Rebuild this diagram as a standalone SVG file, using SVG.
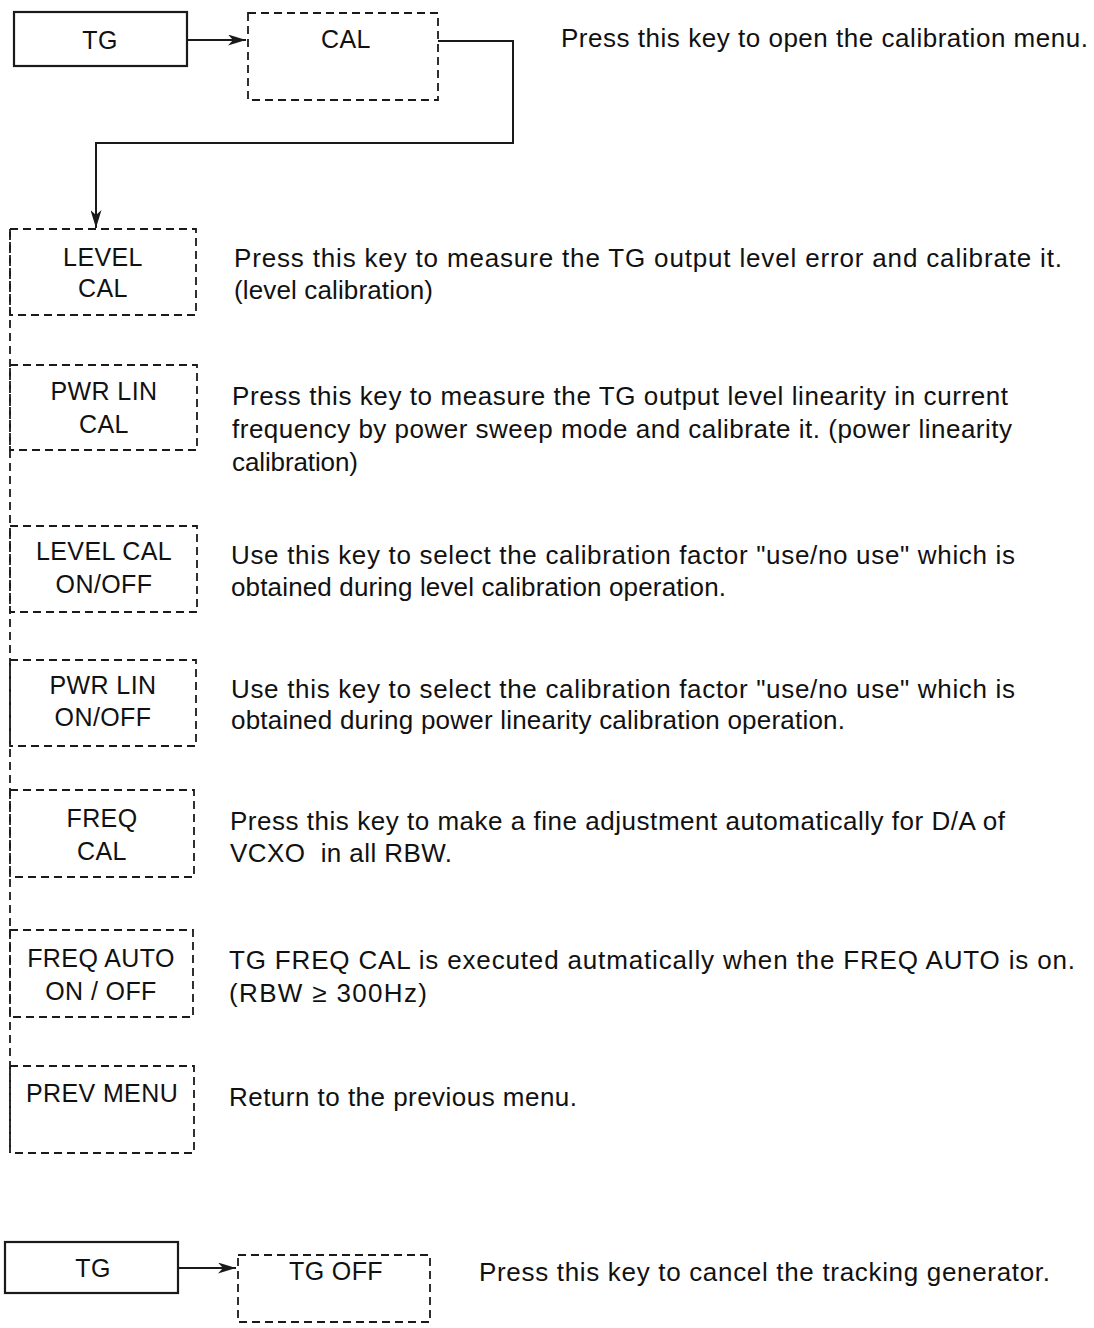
<svg xmlns="http://www.w3.org/2000/svg" width="1094" height="1328" viewBox="0 0 1094 1328">
<style>
  .solid { fill: none; stroke: #1a1a1a; stroke-width: 2.2; }
  .dash { fill: none; stroke: #1a1a1a; stroke-width: 1.8; stroke-dasharray: 8 5; }
  .conn { fill: none; stroke: #1a1a1a; stroke-width: 2; }
  .lbl { font-family: "Liberation Sans", Arial, Helvetica, sans-serif; font-size: 25px; fill: #111; text-anchor: middle; letter-spacing: 0.4px; }
  .desc { font-family: "Liberation Sans", Arial, Helvetica, sans-serif; font-size: 26px; fill: #111; }
</style>
<defs>
  <marker id="arr" viewBox="0 0 18 11" refX="18" refY="5.5" markerWidth="18" markerHeight="11" markerUnits="userSpaceOnUse" orient="auto">
    <path d="M0,0 L18,5.5 L0,11 L5,5.5 Z" fill="#1a1a1a"/>
  </marker>
</defs>
<rect width="1094" height="1328" fill="#ffffff"/>

<g id="connectors">
  <path class="conn" d="M187 40 H246" marker-end="url(#arr)"/>
  <path class="conn" d="M438 41 H513 V143 H96 V228" marker-end="url(#arr)"/>
  <path class="dash" d="M10 229 V1153"/>
  <path class="conn" d="M178 1268 H236" marker-end="url(#arr)"/>
</g>

<g id="tg-top">
  <rect class="solid" x="14" y="12" width="173" height="54"/>
  <text class="lbl" x="100" y="49">TG</text>
</g>
<g id="cal">
  <rect class="dash" x="248" y="13" width="190" height="87"/>
  <text class="lbl" x="346" y="48">CAL</text>
  <text class="desc" x="561" y="47" textLength="527" lengthAdjust="spacing">Press this key to open the calibration menu.</text>
</g>

<g id="level-cal">
  <rect class="dash" x="10" y="229" width="186" height="86"/>
  <text class="lbl" x="103" y="266">LEVEL</text>
  <text class="lbl" x="103" y="297">CAL</text>
  <text class="desc" x="234" y="267" textLength="828" lengthAdjust="spacing">Press this key to measure the TG output level error and calibrate it.</text>
  <text class="desc" x="234" y="299" textLength="199" lengthAdjust="spacing">(level calibration)</text>
</g>

<g id="pwr-lin-cal">
  <rect class="dash" x="10" y="365" width="187" height="85"/>
  <text class="lbl" x="104" y="400">PWR LIN</text>
  <text class="lbl" x="104" y="433">CAL</text>
  <text class="desc" x="232" y="405" textLength="776" lengthAdjust="spacing">Press this key to measure the TG output level linearity in current</text>
  <text class="desc" x="232" y="438" textLength="780" lengthAdjust="spacing">frequency by power sweep mode and calibrate it. (power linearity</text>
  <text class="desc" x="232" y="471" textLength="126" lengthAdjust="spacing">calibration)</text>
</g>

<g id="level-cal-onoff">
  <rect class="dash" x="10" y="526" width="187" height="86"/>
  <text class="lbl" x="104" y="560">LEVEL CAL</text>
  <text class="lbl" x="104" y="593">ON/OFF</text>
  <text class="desc" x="231" y="564" textLength="784" lengthAdjust="spacing">Use this key to select the calibration factor "use/no use" which is</text>
  <text class="desc" x="231" y="596" textLength="495" lengthAdjust="spacing">obtained during level calibration operation.</text>
</g>

<g id="pwr-lin-onoff">
  <rect class="dash" x="10" y="660" width="186" height="86"/>
  <text class="lbl" x="103" y="694">PWR LIN</text>
  <text class="lbl" x="103" y="726">ON/OFF</text>
  <text class="desc" x="231" y="698" textLength="784" lengthAdjust="spacing">Use this key to select the calibration factor "use/no use" which is</text>
  <text class="desc" x="231" y="729" textLength="614" lengthAdjust="spacing">obtained during power linearity calibration operation.</text>
</g>

<g id="freq-cal">
  <rect class="dash" x="10" y="790" width="184" height="87"/>
  <text class="lbl" x="102" y="827">FREQ</text>
  <text class="lbl" x="102" y="860">CAL</text>
  <text class="desc" x="230" y="830" textLength="775" lengthAdjust="spacing">Press this key to make a fine adjustment automatically for D/A of</text>
  <text class="desc" x="230" y="862" textLength="222" lengthAdjust="spacing" xml:space="preserve">VCXO  in all RBW.</text>
</g>

<g id="freq-auto">
  <rect class="dash" x="10" y="930" width="183" height="87"/>
  <text class="lbl" x="101" y="967">FREQ AUTO</text>
  <text class="lbl" x="101" y="1000">ON / OFF</text>
  <text class="desc" x="229" y="969" textLength="846" lengthAdjust="spacing">TG FREQ CAL is executed autmatically when the FREQ AUTO is on.</text>
  <text class="desc" x="229" y="1002" textLength="198" lengthAdjust="spacing">(RBW ≥ 300Hz)</text>
</g>

<g id="prev-menu">
  <rect class="dash" x="10" y="1066" width="184" height="87"/>
  <text class="lbl" x="102" y="1102">PREV MENU</text>
  <text class="desc" x="229" y="1106" textLength="348" lengthAdjust="spacing">Return to the previous menu.</text>
</g>

<g id="tg-bottom">
  <rect class="solid" x="5" y="1242" width="173" height="51"/>
  <text class="lbl" x="93" y="1277">TG</text>
</g>
<g id="tg-off">
  <rect class="dash" x="238" y="1255" width="192" height="67"/>
  <text class="lbl" x="336" y="1280">TG OFF</text>
  <text class="desc" x="479" y="1281" textLength="571" lengthAdjust="spacing">Press this key to cancel the tracking generator.</text>
</g>
</svg>
